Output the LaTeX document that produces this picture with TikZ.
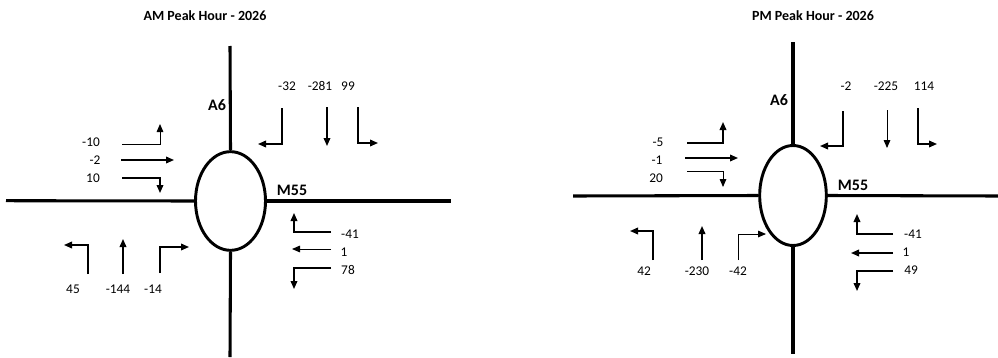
\documentclass[tikz,border=0pt]{standalone}
\usepackage{fontspec}
\setmainfont{Carlito}
\usetikzlibrary{arrows.meta,shapes.geometric}
\begin{document}
\begin{tikzpicture}[x=0.75pt,y=-0.75pt,
  road/.style={line width=2.3pt},
  rb/.style={draw,ellipse,line width=2.2pt,inner sep=0pt},
  mv/.style={line width=1.1pt,-{Triangle[length=6pt,width=5pt]}},
  mvthin/.style={line width=0.7pt,-{Triangle[length=6pt,width=5pt]}},
  num/.style={font=\fontsize{10}{12}\selectfont,inner sep=0pt},
  lbl/.style={font=\bfseries\fontsize{12}{14}\selectfont,inner sep=0pt},
  ttl/.style={font=\bfseries\fontsize{10.5}{12}\selectfont,inner sep=0pt}]
\useasboundingbox (0,0) rectangle (998,357);
\fill[white] (0,0) rectangle (998,357);

% ================= AM =================
\node[ttl] (tAM) at (205,16) {AM Peak Hour - 2026};
\node[rb,minimum width=52.5pt,minimum height=74pt] (rbL) at (230.5,201) {};
\coordinate (nL) at (230,46);
\coordinate (sL) at (230,357);
\coordinate (wL) at (6,200.7);
\coordinate (eL) at (451,201);
\draw[road] (nL) -- (rbL.north);
\draw[road] (rbL.south) -- (sL);
\draw[road] (wL) -- (rbL.west);
\draw[road] (rbL.east) -- (eL);
\node[lbl] (a6L) at (217,105) {A6};
\node[lbl] (m55L) at (292,190) {M55};

% west approach
\node[num] (wL1) at (91,142) {-10};
\node[num] (wL2) at (95,160) {-2};
\node[num] (wL3) at (93,178) {10};
\draw[mvthin] (122,144) -| (160,124);
\draw[mv] (121,160) -- (174,160);
\draw[mv] (122,178) -| (160,193);

% north approach
\node[num] (nL1) at (287,86) {-32};
\node[num] (nL2) at (320,86) {-281};
\node[num] (nL3) at (348,86) {99};
\draw[mv] (282,108) |- (258,144);
\draw[mv] (327,107) -- (327,146);
\draw[mv] (358,107) |- (378,143);

% east approach
\node[num] (eL1) at (350,234) {-41};
\node[num] (eL2) at (344,252) {1};
\node[num] (eL3) at (348,270) {78};
\draw[mv] (331,232) -| (294,213);
\draw[mvthin] (331,249) -- (292,249);
\draw[mv] (331,268) -| (294,289);

% south approach
\node[num] (sL1) at (73,289) {45};
\node[num] (sL2) at (118,289) {-144};
\node[num] (sL3) at (153,289) {-14};
\draw[mv] (88,274) |- (64,245);
\draw[mv] (123,274) -- (123,239);
\draw[mv] (160,273) |- (189,247);

% ================= PM =================
\node[ttl] (tPM) at (813,16) {PM Peak Hour - 2026};
\node[rb,minimum width=50pt,minimum height=75pt] (rbR) at (793,195.5) {};
\coordinate (nR) at (793,42);
\coordinate (sR) at (793,354);
\coordinate (wR) at (573,196);
\coordinate (eR) at (998,196);
\draw[road] (nR) -- (rbR.north);
\draw[road] (rbR.south) -- (sR);
\draw[road] (wR) -- (rbR.west);
\draw[road] (rbR.east) -- (eR);
\node[lbl] (a6R) at (779,100) {A6};
\node[lbl] (m55R) at (853,185) {M55};

% west approach
\node[num] (wR1) at (658,142) {-5};
\node[num] (wR2) at (657,160) {-1};
\node[num] (wR3) at (656,178) {20};
\draw[mv] (687,143) -| (723,122);
\draw[mv] (685,158) -- (738,158);
\draw[mvthin] (687,171) -| (723,187);

% north approach
\node[num] (nR1) at (846,86) {-2};
\node[num] (nR2) at (886,86) {-225};
\node[num] (nR3) at (924,86) {114};
\draw[mv] (843,111) |- (820,146);
\draw[mvthin] (887,110) -- (887,148);
\draw[mv] (918,108) |- (937,144);

% east approach
\node[num] (eR1) at (913,234) {-41};
\node[num] (eR2) at (906,252) {1};
\node[num] (eR3) at (911,270) {49};
\draw[mv] (893,234) -| (857,214);
\draw[mv] (893,253) -- (851,253);
\draw[mv] (893,271) -| (857,291);

% south approach
\node[num] (sR1) at (644,271) {42};
\node[num] (sR2) at (697,271) {-230};
\node[num] (sR3) at (738,271) {-42};
\draw[mv] (653,260) |- (630,231);
\draw[mv] (702,260) -- (702,226);
\draw[mvthin] (738,260) |- (766,234);
\end{tikzpicture}
\end{document}
